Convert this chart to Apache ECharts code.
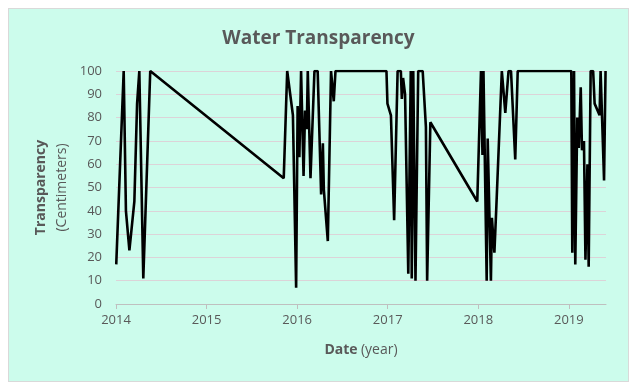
<!DOCTYPE html>
<html>
<head>
<meta charset="utf-8">
<script src="https://cdn.jsdelivr.net/npm/echarts@6/dist/echarts.min.js"></script>
<style>
  html, body { margin: 0; padding: 0; background: #ffffff; }
  #box { position: absolute; left: 8px; top: 8px; width: 619px; height: 372px;
         background: #ccfcec; border: 1px solid #d9d9d9; }
  #chart { width: 619px; height: 372px; }
</style>
</head>
<body>
<div id="box"><div id="chart"></div></div>
<script>
// Sample dates and water transparency (cm)
const dates = [
  "2014-01-02","2014-02-01","2014-02-10","2014-02-24","2014-03-16","2014-03-27","2014-04-05","2014-04-21","2014-05-19",
  "2015-11-08","2015-11-22","2015-12-15","2015-12-28",
  "2016-01-03","2016-01-10","2016-01-17","2016-01-27","2016-02-02","2016-02-09","2016-02-13","2016-02-24",
  "2016-03-11","2016-03-24","2016-04-07","2016-04-14","2016-04-18","2016-05-04","2016-05-17","2016-05-28","2016-06-04",
  "2016-12-27","2016-12-31",
  "2017-01-14","2017-01-27","2017-02-10","2017-02-23","2017-02-27","2017-03-04","2017-03-12","2017-03-25","2017-04-04",
  "2017-04-08","2017-04-14","2017-04-23","2017-05-04","2017-05-22","2017-06-04","2017-06-09","2017-06-22",
  "2017-12-28",
  "2018-01-12","2018-01-18","2018-01-22","2018-02-04","2018-02-08","2018-02-21","2018-02-25","2018-03-07","2018-03-15",
  "2018-04-06","2018-04-20","2018-05-03","2018-05-13","2018-05-30","2018-06-09",
  "2019-01-11","2019-01-15","2019-01-22","2019-01-27","2019-02-04","2019-02-10","2019-02-18","2019-02-23","2019-03-03",
  "2019-03-09","2019-03-17","2019-03-22","2019-03-30","2019-04-09","2019-04-15","2019-05-05","2019-05-09","2019-05-23","2019-05-29"
];
const transparency = [
  17,100,40,23,44,86,100,11,100,
  54,100,81,7,
  85,63,100,55,83,75,100,54,
  100,100,47,69,49,27,100,87,100,
  100,86,
  81,36,100,100,88,97,90,13,100,
  11,100,10,100,100,76,10,78,
  44,
  100,64,100,10,71,10,37,22,42,
  100,82,100,100,62,100,
  100,22,100,17,80,67,93,66,70,
  19,60,16,100,100,86,81,100,53,100
];
const yearTicks = [2014, 2015, 2016, 2017, 2018, 2019];
const yTicks = [0,10,20,30,40,50,60,70,80,90,100];

function decimalYear(s) {
  const p = s.split("-").map(Number);
  const y = p[0];
  const start = Date.UTC(y, 0, 1), end = Date.UTC(y + 1, 0, 1);
  return y + (Date.UTC(y, p[1] - 1, p[2]) - start) / (end - start);
}
const points = dates.map((d, i) => [decimalYear(d), transparency[i]]);
const xMax = points[points.length - 1][0] + 0.005;

const FONT = "'Open Sans', 'Noto Sans', sans-serif";
const chart = echarts.init(document.getElementById('chart'), null, { renderer: 'canvas' });
chart.setOption({
  backgroundColor: 'transparent',
  animation: false,
  title: {
    text: 'Water Transparency',
    left: 'center', top: 15,
    textStyle: { fontFamily: FONT, fontSize: 19, fontWeight: 'bold', color: '#595959' }
  },
  grid: { left: 107, right: 22, top: 62, bottom: 77 },
  xAxis: {
    type: 'value', min: yearTicks[0], max: xMax, interval: 1,
    axisLine: { show: true, lineStyle: { color: '#bfbfbf', width: 1 } },
    axisTick: { show: true, length: 5, lineStyle: { color: '#bfbfbf' }, customValues: yearTicks },
    axisLabel: { fontFamily: FONT, fontSize: 13, color: '#595959', margin: 10,
                 customValues: yearTicks, formatter: v => String(Math.round(v)) },
    splitLine: { show: false },
    name: '{b|Date} {n|(year)}',
    nameLocation: 'middle', nameGap: 39,
    nameTextStyle: { rich: {
      b: { fontFamily: FONT, fontSize: 14, fontWeight: 'bold', color: '#595959' },
      n: { fontFamily: FONT, fontSize: 14, color: '#595959' } } }
  },
  yAxis: {
    type: 'value', min: 0, max: 100, interval: 10,
    axisLine: { show: false }, axisTick: { show: false },
    axisLabel: { fontFamily: FONT, fontSize: 13, color: '#595959', margin: 14,
                 customValues: yTicks },
    splitLine: { show: true, lineStyle: { color: '#dcd3d8', width: 1 } },
    name: '{b|Transparency}\n{n|(Centimeters)}',
    nameLocation: 'middle', nameRotate: 90, nameGap: 41,
    nameTextStyle: { rich: {
      b: { fontFamily: FONT, fontSize: 14, fontWeight: 'bold', color: '#595959', lineHeight: 21, align: 'center' },
      n: { fontFamily: FONT, fontSize: 14, color: '#595959', lineHeight: 21, align: 'center' } } }
  },
  series: [{
    type: 'line',
    data: points,
    showSymbol: false,
    lineStyle: { color: '#000000', width: 2.6 },
    itemStyle: { color: '#000000' }
  }]
});
</script>
</body>
</html>
